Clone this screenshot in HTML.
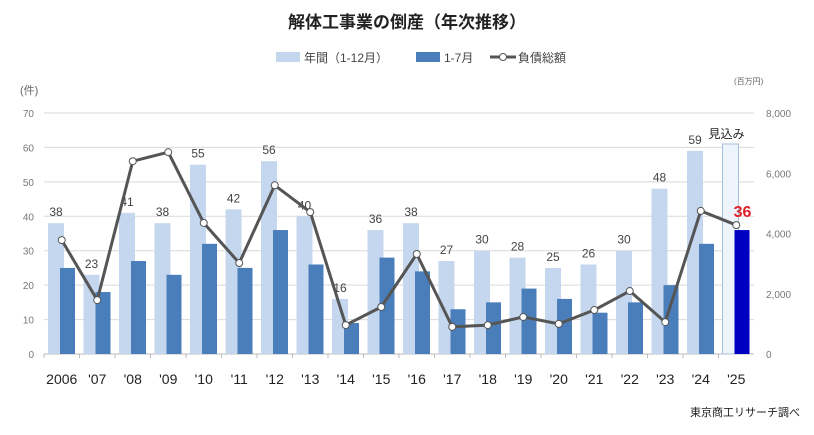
<!DOCTYPE html>
<html><head><meta charset="utf-8"><style>
body{margin:0;background:#fff;font-family:"Liberation Sans","Noto Sans CJK JP",sans-serif;}
svg text{font-family:"Liberation Sans","Noto Sans CJK JP",sans-serif;}
</style></head><body>
<svg id="c" width="814" height="430">
<text x="407" y="28" text-anchor="middle" font-size="17" font-weight="bold" fill="#222">解体工事業の倒産（年次推移）</text>
<g>
<rect x="276" y="52" width="24" height="10" fill="#c5d7ee"/>
<text x="304" y="62" font-size="12" fill="#444">年間（1-12月）</text>
<rect x="416" y="52" width="24" height="10" fill="#4a7ebb"/>
<text x="444" y="62" font-size="12" fill="#444">1-7月</text>
<line x1="490" y1="57" x2="516" y2="57" stroke="#555" stroke-width="3"/>
<circle cx="503" cy="57" r="3.5" fill="#fff" stroke="#555"/>
<text x="518" y="62" font-size="12" fill="#444">負債総額</text>
</g>
<text x="20" y="94" font-size="11" fill="#666">(件)</text>
<text x="734" y="84" font-size="8" fill="#666">(百万円)</text>
<text x="800" y="416" text-anchor="end" font-size="11" fill="#222">東京商工リサーチ調べ</text>
<g id="plot"></g>
</svg>
<script>
const years=["2006","'07","'08","'09","'10","'11","'12","'13","'14","'15","'16","'17","'18","'19","'20","'21","'22","'23","'24","'25"];
const fullYear=[38,23,41,38,55,42,56,40,16,36,38,27,30,28,25,26,30,48,59,61];
const fullLabels=["38","23","41","38","55","42","56","40","16","36","38","27","30","28","25","26","30","48","59",""];
const janJul=[25,18,27,23,32,25,36,26,9,28,24,13,15,19,16,12,15,20,32,36];
const debt=[3780,1790,6400,6700,4350,3020,5600,4710,960,1560,3320,900,960,1230,1000,1460,2090,1060,4750,4280];
const leftTicks=[0,10,20,30,40,50,60,70];
const rightTicks=[0,2000,4000,6000,8000];
const NS="http://www.w3.org/2000/svg";
const g=document.getElementById('plot');
const X0=44,X1=754,Y0=354,Y1=113;
const cw=(X1-X0)/years.length;
const yL=v=>Y0-(v/70)*(Y0-Y1);
const yR=v=>Y0-(v/8000)*(Y0-Y1);
const xc=i=>X0+cw*i;
function mk(t,a){const e=document.createElementNS(NS,t);for(const k in a)e.setAttribute(k,a[k]);g.appendChild(e);return e;}
leftTicks.forEach(t=>{
 const l=mk('line',{x1:X0,x2:X1,y1:yL(t),y2:yL(t),stroke:t?'#d9d9d9':'#bbb'});
 
 
 const tx=mk('text',{x:34,y:yL(t)+4,'text-anchor':'end','font-size':10,fill:'#777'});tx.textContent=t;
 
 
});
rightTicks.forEach(t=>{
 const tx=mk('text',{x:766,y:yR(t)+4,'font-size':10,fill:'#777'});tx.textContent=t.toLocaleString('en-US');
 
 
});
years.forEach((y,i)=>{
 const last=i===years.length-1;
 const b1=mk('rect',{x:xc(i)+4,y:yL(fullYear[i]),width:16,height:Y0-yL(fullYear[i]),fill:last?'#eef4fb':'#c5d7ee',stroke:last?'#a9c0dc':'none','stroke-width':1});
 
 
 const b2=mk('rect',{x:xc(i)+16,y:yL(janJul[i]),width:15,height:Y0-yL(janJul[i]),fill:last?'#0000c0':'#4a7ebb'});
 
 
 if(fullLabels[i]){const t=mk('text',{x:xc(i)+12,y:yL(fullYear[i])-7,'text-anchor':'middle','font-size':12,fill:'#444'});t.textContent=fullLabels[i];
 
 }
 const xl=mk('text',{x:xc(i)+cw/2,y:384,'text-anchor':'middle','font-size':14,fill:'#222'});xl.textContent=y;
 
 
 mk('line',{x1:xc(i),x2:xc(i),y1:Y0,y2:Y0+4,stroke:'#bbb'});
});
const lastI=years.length-1;
let t=mk('text',{x:xc(lastI)+8,y:yL(fullYear[lastI])-6,'text-anchor':'middle','font-size':12,fill:'#222'});t.textContent='見込み';


t=mk('text',{x:xc(lastI)+24,y:yL(janJul[lastI])-13,'text-anchor':'middle','font-size':16,'font-weight':'bold',fill:'#e0202a'});t.textContent=janJul[lastI];


const pts=debt.map((d,i)=>[xc(i)+cw/2,yR(d)]);
const pl=mk('polyline',{points:pts.map(p=>p.join(',')).join(' '),fill:'none',stroke:'#555','stroke-width':3,'stroke-linejoin':'round'});


pts.forEach(p=>{const c=mk('circle',{cx:p[0],cy:p[1],r:3.5,fill:'#fff',stroke:'#555','stroke-width':1});
 
 });
</script>
</body></html>
